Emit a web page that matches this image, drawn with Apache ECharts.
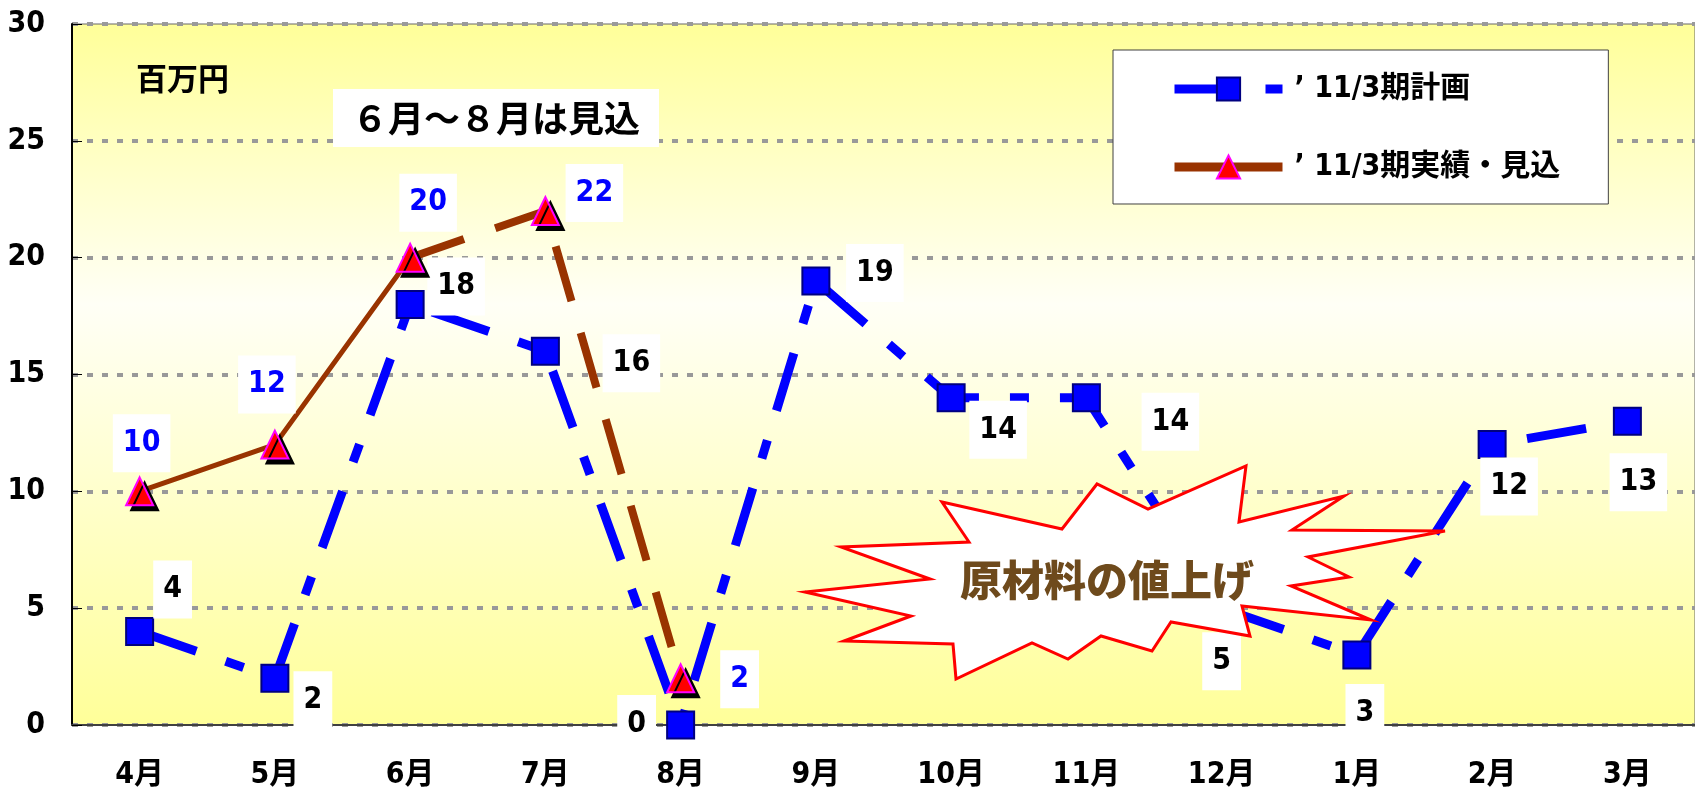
<!DOCTYPE html>
<html>
<head>
<meta charset="utf-8">
<script src="https://cdn.jsdelivr.net/npm/echarts@6/dist/echarts.min.js"></script>
<style>
  html, body { margin: 0; padding: 0; background: #fff; }
  #chart { width: 1695px; height: 792px; }
</style>
</head>
<body>
<div id="chart"></div>
<script>
// months on the x axis
const months = ['4月', '5月', '6月', '7月', '8月', '9月', '10月', '11月', '12月', '1月', '2月', '3月'];
// '11/3期計画 (plan)
const planValues = [4, 2, 18, 16, 0, 19, 14, 14, 5, 3, 12, 13];
// '11/3期実績・見込: actual Apr-Jun, forecast Jun-Aug
const actualValues = [10, 12, 20, null, null, null, null, null, null, null, null, null];
const forecastValues = [null, null, 20, 22, 2, null, null, null, null, null, null, null];
const yTicks = { min: 0, max: 30, interval: 5 };

const planName = '’ 11/3期計画';
const actualName = '’ 11/3期実績・見込';

// hand-placed label offsets, like the original sheet
const planLabelOffset = [[33, -42], [38, 22], [46, -18], [86, 12], [-44, -1], [59, -8],
  [47, 32], [84, 24], [0, 53], [8, 58], [17, 42], [11, 61]];
const actualLabelOffset = [[2, -48], [-8, -60], [18, -55], [49, -18], [59, 1]];

const FONT = "'Liberation Sans Narrow', 'DejaVu Sans Condensed', 'Noto Sans CJK JP', sans-serif";
const JP = "'Noto Sans CJK JP', sans-serif";

const labelBase = {
  show: true,
  position: 'inside',
  fontFamily: FONT,
  fontWeight: 'bold',
  fontSize: 30,
  lineHeight: 30,
  backgroundColor: '#ffffff',
  padding: [14, 10]
};

const planData = planValues.map((v, i) => ({
  value: v,
  label: { offset: planLabelOffset[i] }
}));

const actualLabelFor = (i) => ({ offset: actualLabelOffset[i] });
const actualData = actualValues.map((v, i) => (v === null ? null : { value: v, label: actualLabelFor(i) }));
const forecastData = forecastValues.map((v, i) => {
  if (v === null) return null;
  if (actualValues[i] !== null) return { value: v, symbol: 'none', label: { show: false } };
  return { value: v, label: actualLabelFor(i) };
});

const triangleStyle = {
  color: '#ff0000',
  borderColor: '#ff00ff',
  borderWidth: 2,
  shadowColor: '#000000',
  shadowBlur: 0,
  shadowOffsetX: 5,
  shadowOffsetY: 5
};

// starburst callout outline
const burst = [
  [942, 502], [1062, 529], [1097, 484], [1148, 509], [1246, 466], [1239, 522],
  [1344, 496], [1292, 530], [1445, 531], [1308, 557], [1349, 577], [1291, 586],
  [1371, 620], [1242, 606], [1250, 636], [1171, 622], [1152, 651], [1101, 636],
  [1068, 659], [1032, 643], [956, 679], [953, 644], [844, 641], [911, 616],
  [805, 592], [930, 579], [841, 547], [969, 542]
];

const chart = echarts.init(document.getElementById('chart'));

chart.setOption({
  animation: false,
  backgroundColor: '#ffffff',
  grid: {
    left: 72,
    right: -17,
    top: 24,
    bottom: 67,
    show: true,
    borderColor: '#666666',
    borderWidth: 1,
    backgroundColor: {
      type: 'linear', x: 0, y: 0, x2: 0, y2: 1,
      colorStops: [
        { offset: 0, color: '#ffff99' },
        { offset: 0.4, color: '#fffff6' },
        { offset: 1, color: '#ffff99' }
      ]
    }
  },
  legend: {
    orient: 'vertical',
    left: 1113,
    top: 50,
    padding: [24, 48, 22, 57],
    backgroundColor: '#ffffff',
    borderColor: '#404040',
    borderWidth: 1,
    itemWidth: 108,
    itemHeight: 29,
    itemGap: 48,
    textStyle: {
      fontFamily: FONT,
      fontWeight: 'bold',
      fontSize: 30,
      color: '#000000',
      padding: [0, 0, 0, 7]
    },
    data: [
      { name: planName, lineStyle: { width: 9 } },
      { name: actualName, lineStyle: { width: 9 } }
    ]
  },
  xAxis: {
    type: 'category',
    data: months,
    boundaryGap: true,
    axisLine: { lineStyle: { color: '#404040', width: 2 } },
    axisTick: { inside: true, length: 10, lineStyle: { color: '#404040', width: 1 } },
    axisLabel: {
      margin: 35,
      color: '#000000',
      fontFamily: FONT,
      fontWeight: 'bold',
      fontSize: 30
    },
    splitLine: { show: false }
  },
  yAxis: {
    type: 'value',
    min: yTicks.min,
    max: yTicks.max,
    interval: yTicks.interval,
    axisLine: { show: true, lineStyle: { color: '#000000', width: 2 } },
    axisTick: { show: true, inside: true, length: 10, lineStyle: { color: '#000000', width: 1 } },
    axisLabel: {
      margin: 27,
      color: '#000000',
      fontFamily: FONT,
      fontWeight: 'bold',
      fontSize: 30
    },
    splitLine: { show: true, lineStyle: { color: '#999999', width: 4, type: [6, 9] } }
  },
  series: [
    {
      name: planName,
      type: 'line',
      data: planData,
      symbol: 'rect',
      symbolSize: 27,
      lineStyle: { color: '#0000ff', width: 9, type: [60, 31, 19, 31], cap: 'butt' },
      itemStyle: { color: '#0000ff', borderColor: '#000080', borderWidth: 2 },
      label: Object.assign({}, labelBase, { color: '#000000' }),
      z: 2
    },
    {
      name: actualName,
      type: 'line',
      data: actualData,
      symbol: 'triangle',
      symbolSize: [27, 28],
      lineStyle: { color: '#993300', width: 5 },
      itemStyle: triangleStyle,
      label: Object.assign({}, labelBase, { color: '#0000ff' }),
      z: 4
    },
    {
      name: actualName + '（見込）',
      type: 'line',
      data: forecastData,
      symbol: 'triangle',
      symbolSize: [27, 28],
      lineStyle: { color: '#993300', width: 8, type: [57, 33], cap: 'butt' },
      itemStyle: triangleStyle,
      label: Object.assign({}, labelBase, { color: '#0000ff' }),
      z: 3
    }
  ],
  graphic: [
    {
      type: 'text',
      left: 136,
      top: 63,
      z: 50,
      style: { text: '百万円', font: 'bold 31px ' + JP, fill: '#000000' }
    },
    {
      type: 'rect',
      shape: { x: 333, y: 89, width: 326, height: 58 },
      z: 50,
      style: { fill: '#ffffff' }
    },
    {
      type: 'text',
      x: 496,
      y: 118,
      z: 51,
      style: {
        text: '６月～８月は見込',
        font: 'bold 36px ' + JP,
        fill: '#000000',
        align: 'center',
        verticalAlign: 'middle'
      }
    },
    {
      type: 'polygon',
      shape: { points: burst },
      z: 100,
      style: { fill: '#ffffff', stroke: '#ff0000', lineWidth: 3, lineJoin: 'miter' }
    },
    {
      type: 'text',
      x: 1107,
      y: 580,
      z: 101,
      style: {
        text: '原材料の値上げ',
        font: '900 42px ' + JP,
        fill: '#6e4a1c',
        align: 'center',
        verticalAlign: 'middle'
      }
    }
  ]
});
</script>
</body>
</html>
